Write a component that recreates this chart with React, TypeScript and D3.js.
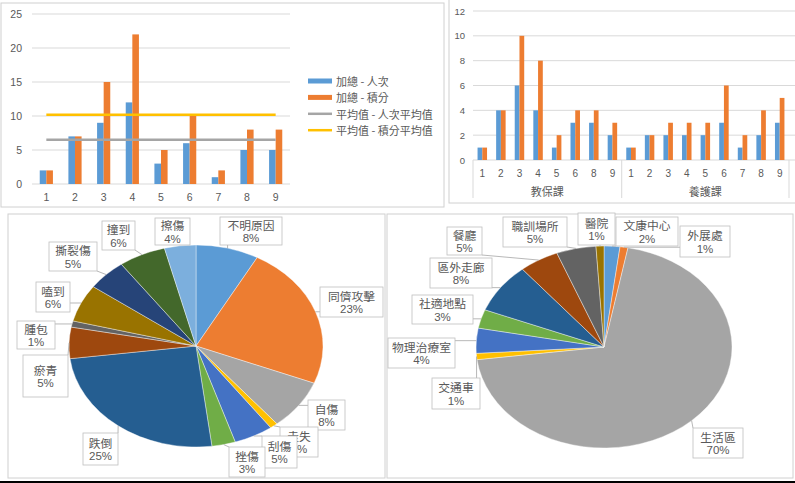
import React from 'react';
import * as d3 from 'd3';

// ---------- DATA ----------
const chart1Categories = ['1', '2', '3', '4', '5', '6', '7', '8', '9'];
const chart1Visits = [2, 7, 9, 12, 3, 6, 1, 5, 5];
const chart1Points = [2, 7, 15, 22, 5, 10, 2, 8, 8];
const chart1VisitsAvg = 6.5;
const chart1PointsAvg = 10.2;
const chart1YTicks = [0, 5, 10, 15, 20, 25];
const chart1Legend = ['加總 - 人次', '加總 - 積分', '平均值 - 人次平均值', '平均值 - 積分平均值'];

const chart2Groups = ['教保課', '養護課'];
const chart2Cats1 = ['1', '2', '3', '4', '5', '6', '8', '9'];
const chart2Cats2 = ['1', '2', '3', '4', '5', '6', '7', '8', '9'];
const chart2Visits1 = [1, 4, 6, 4, 1, 3, 3, 2];
const chart2Points1 = [1, 4, 10, 8, 2, 4, 4, 3];
const chart2Visits2 = [1, 2, 2, 2, 2, 3, 1, 2, 3];
const chart2Points2 = [1, 2, 3, 3, 3, 6, 2, 4, 5];
const chart2YTicks = [0, 2, 4, 6, 8, 10, 12];

const injuryLabels = ['不明原因', '同儕攻擊', '自傷', '走失', '刮傷', '挫傷', '跌倒', '瘀青', '腫包', '嗑到', '撕裂傷', '撞到', '擦傷'];
const injuryValues = [8, 23, 8, 1, 5, 3, 25, 5, 1, 6, 5, 6, 4];

const placeLabels = ['文康中心', '外展處', '生活區', '交通車', '物理治療室', '社適地點', '區外走廊', '餐廳', '職訓場所', '醫院'];
const placeValues = [2, 1, 70, 1, 4, 3, 8, 5, 5, 1];

// ---------- STYLE / LAYOUT ----------
const BLUE = '#5B9BD5';
const ORANGE = '#ED7D31';
const GRAY = '#A5A5A5';
const GOLD = '#FFC000';
const TEXT = '#595959';
const GRID = '#D9D9D9';
const BORDER = '#D0D0D0';
const FONT = '"Noto Sans CJK TC", "Noto Sans", sans-serif';
const NUMFONT = '"Liberation Sans", "Noto Sans", sans-serif';

const injuryColors = ['#5B9BD5', '#ED7D31', '#A5A5A5', '#FFC000', '#4472C4', '#70AD47', '#255E91', '#9E480E', '#636363', '#997300', '#264478', '#43682B', '#7CAFDD'];
const placeColors = ['#5B9BD5', '#ED7D31', '#A5A5A5', '#FFC000', '#4472C4', '#70AD47', '#255E91', '#9E480E', '#636363', '#997300'];

// label boxes [x0, y0, x1, y1]
const injuryBoxes: number[][] = [
  [220, 217, 282, 245],
  [320, 287, 383, 317],
  [308, 400, 345, 430],
  [280, 427, 318, 457],
  [262, 436, 297, 468],
  [229, 447, 265, 477],
  [83, 433, 118, 465],
  [23, 355, 68, 397],
  [17, 321, 55, 349],
  [36, 282, 70, 312],
  [49, 242, 97, 271],
  [102, 221, 135, 250],
  [155, 218, 190, 245],
];
const placeBoxes: number[][] = [
  [616, 217, 678, 246],
  [680, 226, 730, 257],
  [693, 428, 743, 458],
  [432, 378, 480, 409],
  [388, 338, 455, 368],
  [412, 295, 473, 324],
  [430, 258, 492, 288],
  [447, 227, 482, 255],
  [503, 217, 567, 247],
  [578, 213, 615, 245],
];

function Pie({ labels, values, colors, boxes, cx, cy, rx, ry }: any) {
  const pie = d3.pie<number>().sort(null).value((d) => d)(values);
  const arc = d3.arc<d3.PieArcDatum<number>>().innerRadius(0).outerRadius(ry);
  const total = d3.sum(values as number[]);
  const sx = rx / ry;
  return (
    <g>
      <g transform={`translate(${cx},${cy}) scale(${sx},1)`}>
        {pie.map((p, i) => (
          <path key={i} d={arc(p) || ''} fill={colors[i]} stroke="#fff" strokeWidth={0.4} vectorEffect="non-scaling-stroke" />
        ))}
      </g>
      {pie.map((p, i) => {
        const a = (p.startAngle + p.endAngle) / 2;
        const px = cx + rx * Math.sin(a);
        const py = cy - ry * Math.cos(a);
        const [x0, y0, x1, y1] = boxes[i];
        const qx = Math.max(x0, Math.min(x1, px));
        const qy = Math.max(y0, Math.min(y1, py));
        const pct = Math.round((values[i] / total) * 100) + '%';
        const mx = (x0 + x1) / 2;
        const my = (y0 + y1) / 2;
        return (
          <g key={i}>
            {Math.hypot(qx - px, qy - py) > 1 && (
              <line x1={qx} y1={qy} x2={px} y2={py} stroke="#A6A6A6" strokeWidth={0.8} />
            )}
            <rect x={x0} y={y0} width={x1 - x0} height={y1 - y0} fill="#fff" stroke="#BFBFBF" strokeWidth={0.8} />
            <text x={mx} y={my - 6.8} textAnchor="middle" dominantBaseline="central" fontSize={11.8} fill={TEXT} fontFamily={FONT}>
              {labels[i]}
            </text>
            <text x={mx} y={my + 7} textAnchor="middle" dominantBaseline="central" fontSize={11.5} fill={TEXT} fontFamily={NUMFONT}>
              {pct}
            </text>
          </g>
        );
      })}
    </g>
  );
}

export default function App() {
  // Chart 1
  const y1 = d3.scaleLinear().domain([0, 25]).range([184, 14]);
  const x1 = d3.scaleBand<string>().domain(chart1Categories).range([32, 290]).paddingInner(0.54).paddingOuter(0.27);
  const sub1 = d3.scaleBand<string>().domain(['v', 'p']).range([0, x1.bandwidth()]);
  const c1first = (x1(chart1Categories[0]) as number) + x1.bandwidth() / 2;
  const c1last = (x1(chart1Categories[chart1Categories.length - 1]) as number) + x1.bandwidth() / 2;

  // Chart 2
  const keys2 = [...chart2Cats1.map((c) => 'a' + c), ...chart2Cats2.map((c) => 'b' + c)];
  const labels2 = [...chart2Cats1, ...chart2Cats2];
  const visits2 = [...chart2Visits1, ...chart2Visits2];
  const points2 = [...chart2Points1, ...chart2Points2];
  const y2 = d3.scaleLinear().domain([0, 12]).range([160, 11]);
  const x2 = d3.scaleBand<string>().domain(keys2).range([473, 789]).paddingInner(0.49).paddingOuter(0.245);
  const sub2 = d3.scaleBand<string>().domain(['v', 'p']).range([0, x2.bandwidth()]);
  const step2 = x2.step();
  const groupBounds = [473, 473 + chart2Cats1.length * step2, 789];

  return (
    <svg width={795} height={483} style={{ position: 'absolute', left: 0, top: 0, background: '#fff' }}>
      <rect x={0} y={0} width={795} height={483} fill="#fff" />
      {/* panel borders */}
      <rect x={1} y={3} width={443} height={204} fill="none" stroke={BORDER} />
      <rect x={449} y={-2} width={350} height={205} fill="none" stroke={BORDER} />
      <rect x={8} y={214} width={377} height={264} fill="none" stroke={BORDER} />
      <rect x={387} y={214} width={406} height={264} fill="none" stroke={BORDER} />
      <rect x={0} y={481} width={795} height={2} fill="#000" />

      {/* ---------- Chart 1 ---------- */}
      {chart1YTicks.map((t) => (
        <g key={t}>
          <line x1={32} x2={290} y1={y1(t)} y2={y1(t)} stroke={GRID} strokeWidth={1} />
          <text x={22} y={y1(t)} textAnchor="end" dominantBaseline="central" fontSize={10.5} fill={TEXT} fontFamily={NUMFONT}>
            {t}
          </text>
        </g>
      ))}
      {chart1Categories.map((c, i) => (
        <g key={c}>
          <rect x={(x1(c) as number) + (sub1('v') as number)} y={y1(chart1Visits[i])} width={sub1.bandwidth()} height={y1(0) - y1(chart1Visits[i])} fill={BLUE} />
          <rect x={(x1(c) as number) + (sub1('p') as number)} y={y1(chart1Points[i])} width={sub1.bandwidth()} height={y1(0) - y1(chart1Points[i])} fill={ORANGE} />
          <text x={(x1(c) as number) + x1.bandwidth() / 2} y={197} textAnchor="middle" dominantBaseline="central" fontSize={10.5} fill={TEXT} fontFamily={NUMFONT}>
            {c}
          </text>
        </g>
      ))}
      <line x1={c1first} x2={c1last} y1={y1(chart1VisitsAvg)} y2={y1(chart1VisitsAvg)} stroke={GRAY} strokeWidth={2.5} />
      <line x1={c1first} x2={c1last} y1={y1(chart1PointsAvg)} y2={y1(chart1PointsAvg)} stroke={GOLD} strokeWidth={2.5} />
      {chart1Legend.map((l, i) => {
        const yy = 81 + i * 16.4;
        const color = [BLUE, ORANGE, GRAY, GOLD][i];
        return (
          <g key={l}>
            {i < 2 ? (
              <rect x={308} y={yy - 2.5} width={24} height={5} fill={color} />
            ) : (
              <line x1={308} x2={332} y1={yy} y2={yy} stroke={color} strokeWidth={2.5} />
            )}
            <text x={336} y={yy} dominantBaseline="central" fontSize={11} fill={TEXT} fontFamily={FONT}>
              {l}
            </text>
          </g>
        );
      })}

      {/* ---------- Chart 2 ---------- */}
      {chart2YTicks.map((t) => (
        <g key={t}>
          <line x1={473} x2={795} y1={y2(t)} y2={y2(t)} stroke={GRID} strokeWidth={1} />
          <text x={465} y={y2(t)} textAnchor="end" dominantBaseline="central" fontSize={9.5} fill={TEXT} fontFamily={NUMFONT}>
            {t}
          </text>
        </g>
      ))}
      {keys2.map((k, i) => (
        <g key={k}>
          <rect x={(x2(k) as number) + (sub2('v') as number)} y={y2(visits2[i])} width={sub2.bandwidth()} height={y2(0) - y2(visits2[i])} fill={BLUE} />
          <rect x={(x2(k) as number) + (sub2('p') as number)} y={y2(points2[i])} width={sub2.bandwidth()} height={y2(0) - y2(points2[i])} fill={ORANGE} />
          <text x={(x2(k) as number) + x2.bandwidth() / 2} y={173} textAnchor="middle" dominantBaseline="central" fontSize={10} fill={TEXT} fontFamily={NUMFONT}>
            {labels2[i]}
          </text>
        </g>
      ))}
      {groupBounds.map((gx, i) => (
        <line key={i} x1={gx} x2={gx} y1={160} y2={198} stroke={GRID} strokeWidth={1} />
      ))}
      {chart2Groups.map((g, i) => (
        <text key={g} x={(groupBounds[i] + groupBounds[i + 1]) / 2} y={191} textAnchor="middle" dominantBaseline="central" fontSize={11} fill={TEXT} fontFamily={FONT}>
          {g}
        </text>
      ))}

      {/* ---------- Pies ---------- */}
      <Pie labels={injuryLabels} values={injuryValues} colors={injuryColors} boxes={injuryBoxes} cx={196} cy={346} rx={127} ry={101} />
      <Pie labels={placeLabels} values={placeValues} colors={placeColors} boxes={placeBoxes} cx={604} cy={347} rx={128} ry={101} />
    </svg>
  );
}
